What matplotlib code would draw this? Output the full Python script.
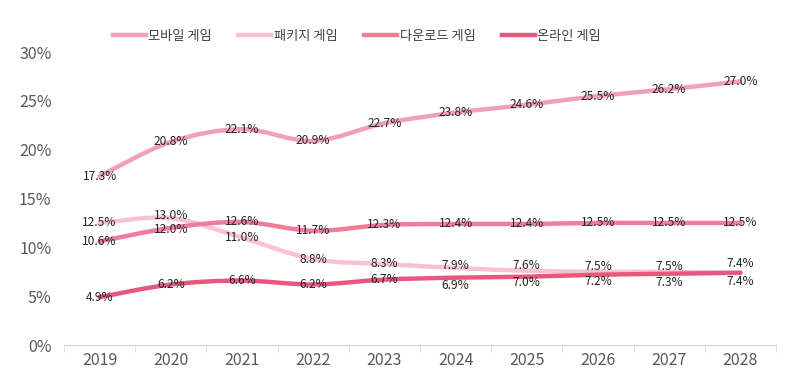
import matplotlib.pyplot as plt
import numpy as np
from matplotlib.path import Path
from matplotlib.patches import PathPatch

plt.rcParams["font.family"] = ["Noto Sans CJK KR", "DejaVu Sans"]

years = ["2019", "2020", "2021", "2022", "2023", "2024", "2025", "2026", "2027", "2028"]
mobile = [17.3, 20.8, 22.1, 20.9, 22.7, 23.8, 24.6, 25.5, 26.2, 27.0]
package = [12.5, 13.0, 11.0, 8.8, 8.3, 7.9, 7.6, 7.5, 7.5, 7.4]
download = [10.6, 12.0, 12.6, 11.7, 12.3, 12.4, 12.4, 12.5, 12.5, 12.5]
online = [4.9, 6.2, 6.6, 6.2, 6.7, 6.9, 7.0, 7.2, 7.3, 7.4]
series_names = ["모바일 게임", "패키지 게임", "다운로드 게임", "온라인 게임"]

colors = ["#F2A0B5", "#F7C3D0", "#EE7D99", "#E8587E"]
# vertical label nudges in points (labels that would overlap)
label_dy = [
    [0] * 10,
    [0, 1.5, 0, 0, 0, 2, 4, 4, 4, 7],
    [0, -1.5, 0, 0, 0, 0, 0, 0, 0, 0],
    [0, 0, 0, 0, 0, -6, -4, -5, -6, -6],
]


def smooth_path(xs, ys):
    # Bezier curve through the points, like a spreadsheet "smoothed line"
    pts = np.column_stack([xs, ys]).astype(float)
    verts = [pts[0]]
    codes = [Path.MOVETO]
    n = len(pts)
    for i in range(n - 1):
        p0 = pts[i - 1] if i > 0 else pts[i]
        p1 = pts[i]
        p2 = pts[i + 1]
        p3 = pts[i + 2] if i + 2 < n else pts[i + 1]
        c1 = p1 + (p2 - p0) / 6
        c2 = p2 - (p3 - p1) / 6
        verts += [c1, c2, p2]
        codes += [Path.CURVE4] * 3
    return Path(verts, codes)


fig = plt.figure(figsize=(8, 3.8), dpi=100)
ax = fig.add_axes([0.08, 0.092, 0.89, 0.771])

x = np.arange(len(years))
all_series = [mobile, package, download, online]
for vals, name, color in zip(all_series, series_names, colors):
    patch = PathPatch(smooth_path(x, vals), facecolor="none", edgecolor=color,
                      lw=3.2, capstyle="round", joinstyle="round")
    ax.add_patch(patch)
    ax.plot([], [], color=color, lw=3.2, label=name)

for vals, dys in zip(all_series, label_dy):
    for xi, v, dy in zip(x, vals, dys):
        ax.annotate(f"{v:.1f}%", (xi, v), xytext=(0, dy), textcoords="offset points",
                    ha="center", va="center", fontsize=8.6, color="#262626")

ax.set_xlim(-0.5, len(years) - 0.5)
ax.set_ylim(0, 30)
ax.set_yticks(range(0, 31, 5))
ax.set_yticklabels([f"{t}%" for t in range(0, 31, 5)])
ax.set_xticks(x)
ax.set_xticklabels(years)
ax.set_xticks(np.arange(-0.5, len(years)), minor=True)

for s in ["top", "right", "left"]:
    ax.spines[s].set_visible(False)
ax.spines["bottom"].set_color("#D9D9D9")
ax.tick_params(axis="y", length=0, labelsize=11.5, labelcolor="#595959", pad=9)
ax.tick_params(axis="x", which="major", length=0, labelsize=11.5, labelcolor="#595959", pad=5)
ax.tick_params(axis="x", which="minor", length=5, color="#D9D9D9")

fig.legend(loc="center", bbox_to_anchor=(0.446, 0.905), ncol=4, frameon=False,
           fontsize=9.5, labelcolor="#404040", handlelength=2.5, handletextpad=0.2,
           columnspacing=2.0)

plt.savefig("out.png", dpi=100)
plt.close(fig)
